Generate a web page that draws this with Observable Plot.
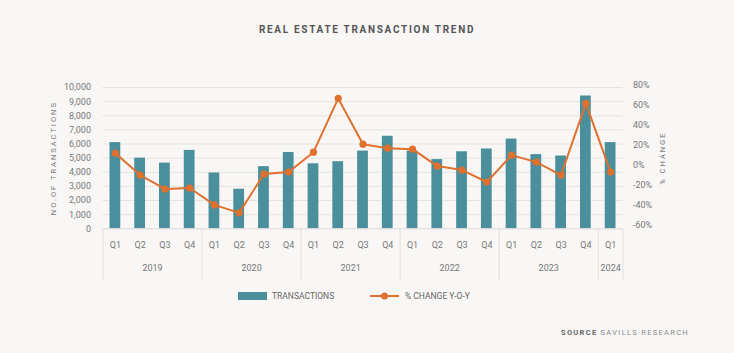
<!DOCTYPE html>
<html>
<head>
<meta charset="utf-8">
<script src="https://cdn.jsdelivr.net/npm/d3@7"></script>
<script src="https://cdn.jsdelivr.net/npm/@observablehq/plot@0.6"></script>
<style>
  html, body { margin: 0; padding: 0; background: #f8f7f5; }
  #wrap { position: relative; width: 734px; height: 353px; background: #f8f7f5; font-family: Roboto, "Noto Sans", sans-serif; overflow: hidden; }
  #title { position: absolute; left: 0; width: 734px; top: 24px; text-align: center; font-size: 10px; font-weight: 700; letter-spacing: 1.7px; color: #555; }
  #chart { position: absolute; left: 0; top: 50px; }
  #chart svg { background: transparent; }
  #chart g[aria-label="y-axis label"] text { font-size: 7.5px; letter-spacing: 2px; fill: #777; }
  .legend { position: absolute; top: 291px; font-size: 8.5px; color: #666; display: flex; align-items: center; }
  .sw-bar { display: inline-block; width: 29px; height: 8px; background: #4a8f9b; margin-right: 5px; }
  #source { position: absolute; right: 45px; top: 328px; font-size: 7.5px; letter-spacing: 1.3px; color: #8a8a8a; }
  #source b { color: #666; }
</style>
</head>
<body>
<div id="wrap">
  <div id="title">REAL ESTATE TRANSACTION TREND</div>
  <div id="chart"></div>
  <div class="legend" style="left:238px"><span class="sw-bar"></span>TRANSACTIONS</div>
  <div class="legend" style="left:370px">
    <svg width="30" height="10" style="margin-right:5px"><line x1="0" y1="5" x2="29" y2="5" stroke="#e0702e" stroke-width="2"/><circle cx="14.5" cy="5" r="3.5" fill="#e0702e"/></svg>% CHANGE Y-O-Y
  </div>
  <div id="source"><b>SOURCE</b> SAVILLS RESEARCH</div>
</div>
<script>
// ---- data ----
const years = ["2019", "2020", "2021", "2022", "2023", "2024"];
const quartersPerYear = [4, 4, 4, 4, 4, 1];
const quarterLabels = ["Q1","Q2","Q3","Q4","Q1","Q2","Q3","Q4","Q1","Q2","Q3","Q4","Q1","Q2","Q3","Q4","Q1","Q2","Q3","Q4","Q1"];
const transactions = [6100, 5000, 4650, 5550, 3950, 2800, 4400, 5400, 4600, 4750, 5500, 6550, 5500, 4900, 5450, 5650, 6350, 5250, 5150, 9400, 6100];
const pctChange = [12, -10, -24, -23, -40, -48, -9, -7, 13, 67, 21, 17, 16, -1, -5, -17, 10, 3, -10, 62, -7];
const leftTicks = [0, 1000, 2000, 3000, 4000, 5000, 6000, 7000, 8000, 9000, 10000];
const rightTicks = [-60, -40, -20, 0, 20, 40, 60, 80];

// ---- derived ----
const rows = transactions.map((v, i) => ({i, q: quarterLabels[i], value: v, pct: pctChange[i]}));
let start = 0;
const yearRows = years.map((y, k) => { const r = {year: y, start, end: start + quartersPerYear[k]}; start += quartersPerYear[k]; return r; });
const boundaries = [0, ...yearRows.map(r => r.end)];
// secondary axis: percent mapped onto transaction units
const pctScale = d3.scaleLinear().domain([-60, 80]).range([283, 10142]);
const conv = p => pctScale(p);

const bar = "#4a8f9b", orange = "#e0702e";

const chart = Plot.plot({
  width: 734,
  height: 240,
  marginLeft: 102.5,
  marginRight: 111.5,
  marginTop: 37,
  marginBottom: 61.7,
  style: {background: "transparent", fontFamily: "Roboto, 'Noto Sans', sans-serif", fontSize: "9px", color: "#777"},
  x: {domain: [0, rows.length], axis: null},
  y: {domain: [0, 10000], axis: null},
  marks: [
    Plot.ruleY(leftTicks, {stroke: "#e6e4e1", strokeWidth: 1}),
    Plot.rectY(rows, {x: "i", interval: 1, y: "value", fill: bar, insetLeft: 7, insetRight: 7}),
    Plot.line(rows, {x: d => d.i + 0.5, y: d => conv(d.pct), stroke: orange, strokeWidth: 2}),
    Plot.dot(rows, {x: d => d.i + 0.5, y: d => conv(d.pct), fill: orange, r: 3.6}),
    Plot.axisY(leftTicks, {anchor: "left", tickSize: 0, tickPadding: 12, tickFormat: d3.format(","), fill: "#777",
      label: "NO.OF TRANSACTIONS", labelAnchor: "center", labelOffset: 52, labelArrow: "none"}),
    Plot.axisY(rightTicks.map(conv), {anchor: "right", tickSize: 0, tickPadding: 10, fill: "#777",
      tickFormat: d => Math.round(pctScale.invert(d)) + "%",
      label: "% CHANGE", labelAnchor: "center", labelOffset: 42, labelArrow: "none"}),
    Plot.axisX(rows.map(d => d.i + 0.5), {anchor: "bottom", tickSize: 0, tickPadding: 13, fill: "#777",
      tickFormat: d => quarterLabels[Math.floor(d)], label: null}),
    Plot.axisX(boundaries, {anchor: "bottom", tickSize: 52, stroke: "#e3e1de", tickFormat: () => "", label: null}),
    Plot.ruleY([0], {stroke: "#e3e1de"}),
    Plot.text(yearRows, {x: d => (d.start + d.end) / 2, text: "year", frameAnchor: "bottom", dy: 42, fill: "#777"})
  ]
});
document.getElementById("chart").appendChild(chart);
</script>
</body>
</html>
